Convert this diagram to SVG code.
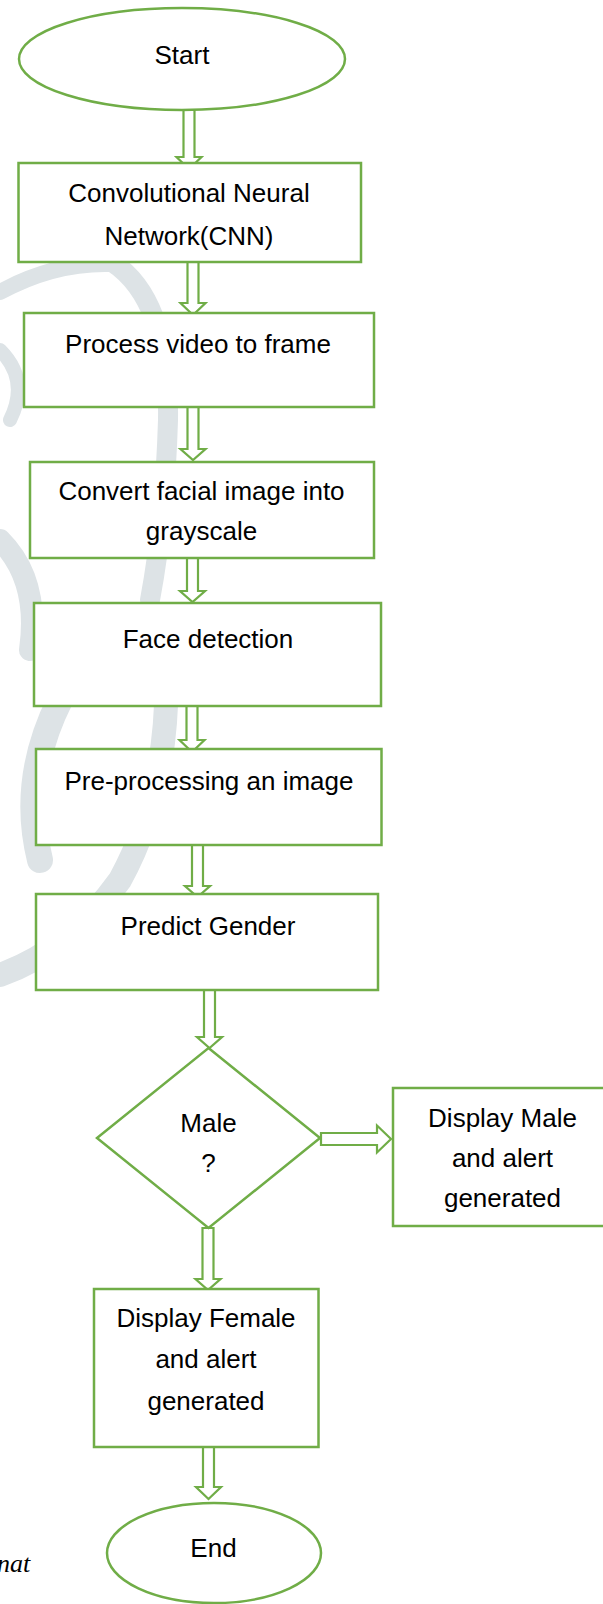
<svg xmlns="http://www.w3.org/2000/svg" width="603" height="1604" viewBox="0 0 603 1604">
<style>
.s{fill:#fff;stroke:#70ad47;stroke-width:2.5}
.a{fill:#fff;stroke:#70ad47;stroke-width:2.2;stroke-linejoin:miter}
.t{font-family:"Liberation Sans",Arial,sans-serif;font-size:26px;fill:#000;text-anchor:middle}
.w{fill:none;stroke:#dde3e6;stroke-linecap:round}
</style>
<rect width="603" height="1604" fill="#fff"/>
<g id="watermark">
<path class="w" stroke-width="16" d="M0,292 Q55,262 112,264"/>
<path class="w" stroke-width="20" d="M112,262 Q170,300 168,420 Q165,520 150,600"/>
<path class="w" stroke-width="24" d="M165,640 Q175,780 120,880 Q70,950 0,975"/>
<path class="w" stroke-width="22" d="M0,540 Q40,580 30,650"/>
<path class="w" stroke-width="26" d="M60,700 Q20,780 40,860"/>
<path class="w" stroke-width="14" d="M0,350 Q30,380 10,420"/>
</g>
<g id="connectors">
<polygon class="a" points="183.5,110 194.5,110 194.5,157 201.5,157 189,169 176.5,157 183.5,157"/>
<polygon class="a" points="187.5,262 198.5,262 198.5,303 205.5,303 193,315 180.5,303 187.5,303"/>
<polygon class="a" points="187.5,407 198.5,407 198.5,449 205.5,449 193,460 180.5,449 187.5,449"/>
<polygon class="a" points="187,558 198,558 198,591 205,591 192.5,602 180,591 187,591"/>
<polygon class="a" points="186.5,706 197.5,706 197.5,740 204.5,740 192,752 179.5,740 186.5,740"/>
<polygon class="a" points="192,845 203,845 203,886 210,886 197.5,897 185,886 192,886"/>
<polygon class="a" points="204,990 215,990 215,1037 222,1037 209.5,1048 197,1037 204,1037"/>
<polygon class="a" points="321,1133 377,1133 377,1125.5 391,1139 377,1152.5 377,1145 321,1145"/>
<polygon class="a" points="202.5,1228 213.5,1228 213.5,1279 220.5,1279 208,1290 195.5,1279 202.5,1279"/>
<polygon class="a" points="203,1447 214,1447 214,1487 221,1487 208.5,1499 196,1487 203,1487"/>
</g>
<g id="start">
<ellipse class="s" cx="182" cy="59" rx="163" ry="51"/>
<text class="t" x="182" y="64">Start</text>
</g>
<g id="cnn">
<rect class="s" x="18.5" y="163" width="342.5" height="99"/>
<text class="t" x="189" y="202">Convolutional Neural</text>
<text class="t" x="189" y="245">Network(CNN)</text>
</g>
<g id="process">
<rect class="s" x="24" y="313" width="350" height="94"/>
<text class="t" x="198" y="353">Process video to frame</text>
</g>
<g id="convert">
<rect class="s" x="30" y="462" width="344" height="96"/>
<text class="t" x="201.5" y="500">Convert facial image into</text>
<text class="t" x="201.5" y="540">grayscale</text>
</g>
<g id="face">
<rect class="s" x="34" y="603" width="347" height="103"/>
<text class="t" x="208" y="648">Face detection</text>
</g>
<g id="preprocess">
<rect class="s" x="36" y="749" width="345.5" height="96"/>
<text class="t" x="209" y="790">Pre-processing an image</text>
</g>
<g id="predict">
<rect class="s" x="36" y="894" width="342" height="96"/>
<text class="t" x="208" y="935">Predict Gender</text>
</g>
<g id="decision">
<polygon class="s" points="208.5,1048 320,1138 208.5,1228 97,1138"/>
<text class="t" x="208.5" y="1132">Male</text>
<text class="t" x="208.5" y="1172">?</text>
</g>
<g id="male">
<rect class="s" x="393" y="1088" width="220" height="138"/>
<text class="t" x="502.5" y="1127">Display Male</text>
<text class="t" x="502.5" y="1167">and alert</text>
<text class="t" x="502.5" y="1207">generated</text>
</g>
<g id="female">
<rect class="s" x="94" y="1289" width="224.5" height="158"/>
<text class="t" x="206" y="1327">Display Female</text>
<text class="t" x="206" y="1368">and alert</text>
<text class="t" x="206" y="1410">generated</text>
</g>
<g id="end">
<ellipse class="s" cx="214" cy="1553" rx="107" ry="50"/>
<text class="t" x="213.5" y="1557">End</text>
</g>
<text x="-3" y="1572" font-family="Liberation Serif,serif" font-style="italic" font-size="26">nat</text>
</svg>
